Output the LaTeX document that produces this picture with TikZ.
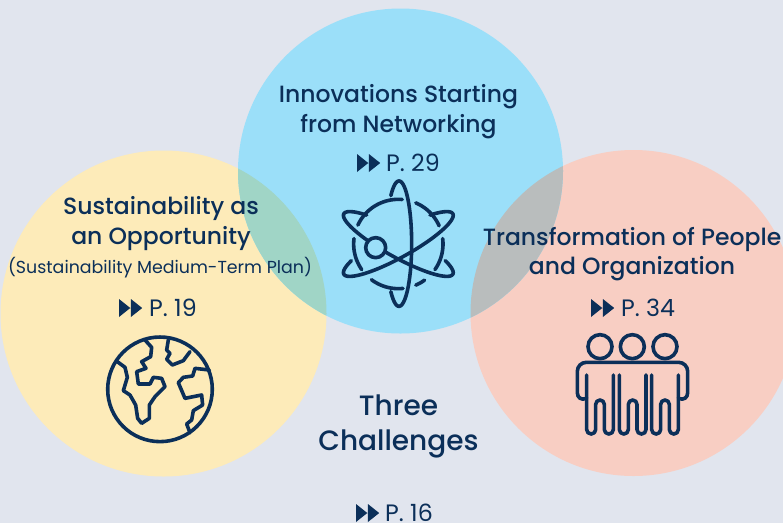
\documentclass[tikz,border=0pt]{standalone}
\usepackage{fontspec}
\setmainfont{Poppins}
\newfontfamily\headf{Poppins Medium}
\definecolor{bgc}{HTML}{E1E5EE}
\definecolor{yel}{HTML}{FDEBB9}
\definecolor{blu}{HTML}{9BDFF9}
\definecolor{pnk}{HTML}{F8CEC3}
\definecolor{teal2}{HTML}{A0D5C6}
\definecolor{gry}{HTML}{B9BDBD}
\definecolor{navy}{HTML}{0B2F59}
\tikzset{
  head/.style={text=navy,align=center,font=\headf\fontsize{23.5}{29.5}\selectfont,inner sep=0pt},
  big/.style={text=navy,align=center,font=\headf\fontsize{28}{35}\selectfont,inner sep=0pt},
  sub/.style={text=navy,font=\fontsize{17.4}{18}\selectfont,inner sep=0pt},
  page/.style={text=navy,anchor=west,font=\fontsize{23.7}{25}\selectfont,inner sep=0pt},
  ico/.style={draw=navy,line width=3.6pt,line join=round,line cap=round,fill=none},
}
\newcommand\ffw[2]{\fill[navy] (#1,#2-9)--(#1+11.3,#2)--(#1,#2+9)--cycle (#1+11.9,#2-9)--(#1+23.2,#2)--(#1+11.9,#2+9)--cycle;}
% cx cy a b rot t0 t1
\newcommand\ellarc[7]{\draw[ico] plot[domain=#6:#7,samples=90,smooth] ({#1+#3*cos(\x)*cos(#5)-#4*sin(\x)*sin(#5)},{#2+#3*cos(\x)*sin(#5)+#4*sin(\x)*cos(#5)});}
\begin{document}
\begin{tikzpicture}[x=1pt,y=-1pt]
\useasboundingbox (0,0) rectangle (783,523);
\fill[bgc] (0,0) rectangle (783,523);
\fill[yel] (163.5,313.5) circle[radius=163];
\fill[pnk] (633.5,313) circle[radius=163];
\fill[blu] (400.5,171) circle[radius=162.5];
\begin{scope}\clip (163.5,313.5) circle[radius=163];\fill[teal2] (400.5,171) circle[radius=162.5];\end{scope}
\begin{scope}\clip (633.5,313) circle[radius=163];\fill[gry] (400.5,171) circle[radius=162.5];\end{scope}
% texts
\node[head] (inno) at (398.5,111.5) {Innovations Starting\\from Networking};
\node[head] (sust) at (161,223.5) {Sustainability as\\an Opportunity};
\node[sub] (plan) at (160,268) {(Sustainability Medium-Term Plan)};
\node[head] (tran) at (632,254) {Transformation of People\\and Organization};
\node[big] (three) at (398.5,426) {Three\\Challenges};
\ffw{357}{163}\node[page] (p29) at (386,163) {P. 29};
\ffw{119}{308}\node[page] (p19) at (149,308) {P. 19};
\ffw{591}{308}\node[page] (p34) at (621,308) {P. 34};
\ffw{356}{513}\node[page] (p16) at (385,512.5) {P. 16};
% globe
\begin{scope}[shift={(90,290)},x=0.3333pt,y=-0.3333pt]
\draw[ico] (210,298) circle[radius=52.3pt];
\draw[ico] (165,150)--(185,172)--(182,200)--(155,215)--(168,235)--(140,245)--(145,282)--(180,282)--(190,262)--(215,265)--(225,290)--(195,320)--(178,345)--(178,385)--(155,400)--(143,385)--(137,345)--(120,315)--(100,302)--(112,262)--(105,232)--(82,215);
\draw[ico] (235,150)--(230,180)--(240,190)--(230,208)--(247,225)--(280,212)--(300,185);
\draw[ico] (358,240)--(315,235)--(308,258)--(280,262)--(265,278)--(285,325)--(335,315)--(338,345)--(310,362)--(305,390)--(290,402)--(300,428);
\end{scope}
% atom
\begin{scope}[shift={(330,150)},x=0.3333pt,y=-0.3333pt]
\ellarc{207}{281}{38}{188}{0}{230}{490}
\ellarc{205}{282}{187}{40}{29}{-38}{228}
\ellarc{205}{282}{187}{40}{151}{-228}{38}
\ellarc{205}{282}{134}{134}{0}{205}{275}
\ellarc{205}{282}{134}{134}{0}{293}{336}
\ellarc{205}{282}{134}{134}{0}{353}{395}
\ellarc{205}{282}{134}{134}{0}{54}{67}
\ellarc{205}{282}{134}{134}{0}{84}{127}
\ellarc{205}{282}{134}{134}{0}{145}{187}
\filldraw[ico,fill=blu] (137,293) circle[radius=10pt];
\end{scope}
% people
\begin{scope}[shift={(560,290)},x=0.3333pt,y=-0.3333pt]
\draw[ico] (120,170) circle[radius=12pt] (217,170) circle[radius=12pt] (315,170) circle[radius=12pt];
\draw[ico,rounded corners=9pt] (80,325) -- (52,335) -- (52,217) -- (383,217) -- (383,335) -- (355,325);
\foreach \d in {0,98,195}{
\draw[ico,rounded corners=4.4pt] (80+\d,255) -- (80+\d,432) -- (107+\d,432) -- (107+\d,330) -- (133+\d,330) -- (133+\d,432) -- (160+\d,432) -- (160+\d,255);
}
\end{scope}
\end{tikzpicture}
\end{document}
